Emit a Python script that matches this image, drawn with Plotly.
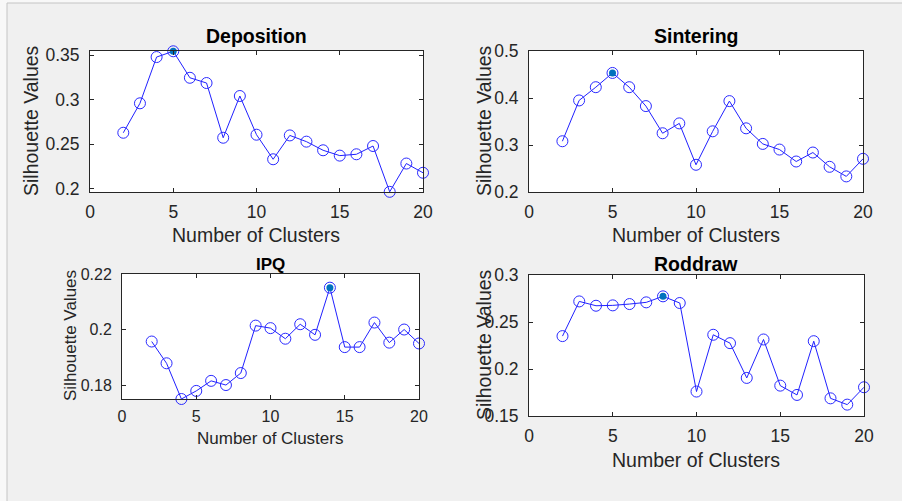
import plotly.graph_objects as go

clusters = list(range(2, 21))

deposition = [0.2629, 0.2960, 0.3480, 0.3545, 0.3247, 0.3188, 0.2573, 0.3042, 0.2607,
              0.2331, 0.2599, 0.2529, 0.2432, 0.2372, 0.2387, 0.2480, 0.1965, 0.2283, 0.2179]
sintering = [0.3080, 0.3948, 0.4230, 0.4533, 0.4230, 0.3828, 0.3250, 0.3460, 0.2579,
             0.3291, 0.3934, 0.3355, 0.3023, 0.2903, 0.2649, 0.2840, 0.2536, 0.2332, 0.2706]
ipq = [0.1958, 0.1880, 0.1752, 0.1781, 0.1817, 0.1802, 0.1845, 0.2015, 0.2006,
       0.1968, 0.2020, 0.1982, 0.2151, 0.1938, 0.1938, 0.2026, 0.1954, 0.2001, 0.1951]
roddraw = [0.2350, 0.2719, 0.2673, 0.2677, 0.2691, 0.2709, 0.2773, 0.2702, 0.1760,
           0.2364, 0.2275, 0.1905, 0.2314, 0.1823, 0.1724, 0.2296, 0.1688, 0.1621, 0.1806]

titles = ["Deposition", "Sintering", "IPQ", "Roddraw"]
x_ticks = [0, 5, 10, 15, 20]
x_ticklabels = ["0", "5", "10", "15", "20"]
y_ticks = [[0.2, 0.25, 0.3, 0.35], [0.2, 0.3, 0.4, 0.5], [0.18, 0.2, 0.22], [0.15, 0.2, 0.25, 0.3]]
y_ticklabels = [["0.2", "0.25", "0.3", "0.35"], ["0.2", "0.3", "0.4", "0.5"],
                ["0.18", "0.2", "0.22"], ["0.15", "0.2", "0.25", "0.3"]]
y_ranges = [[0.1963, 0.3548], [0.2, 0.5], [0.1752, 0.22], [0.15, 0.3]]
series = [deposition, sintering, ipq, roddraw]

W, H = 902, 501


def fx(p):
    return p / W


def fy(p):
    return 1 - p / H


# axes boxes in pixels: left, right, top, bottom
boxes = [(90, 423, 51, 192), (529, 863, 51, 192), (122, 419, 274, 399), (529, 864, 275, 416)]
fsize = [19.5, 19.5, 17, 19.5]
tsize = [17.5, 17.5, 16, 17.5]
xstand = [4, 4, 3, 4]
title_pos = [(256, 36), (696, 36), (270, 264), (696, 264)]
xlab_pos = [(256, 235), (696, 235), (270, 438), (696, 460)]
ylab_pos = [(31, 121), (484, 121), (70, 336), (484, 345)]

FONT = "Liberation Sans, Arial, Helvetica, sans-serif"
TXT = "#262626"

fig = go.Figure()
layout = dict(width=W, height=H, margin=dict(l=0, r=0, t=0, b=0, autoexpand=False),
              paper_bgcolor="#f0f0f0", plot_bgcolor="white", showlegend=False,
              font=dict(family=FONT, color=TXT))
annotations = []

for i, (ys, box) in enumerate(zip(series, boxes)):
    l, r, t, b = box
    n = "" if i == 0 else str(i + 1)
    xa, ya = "x" + n, "y" + n
    fig.add_trace(go.Scatter(x=clusters, y=ys, mode="lines+markers", xaxis=xa, yaxis=ya,
                             line=dict(color="#2020ff", width=1),
                             marker=dict(symbol="circle-open", size=11, color="#2a2aff",
                                         line=dict(width=1)),
                             cliponaxis=False))
    k = max(range(len(ys)), key=lambda j: ys[j])
    fig.add_trace(go.Scatter(x=[clusters[k]], y=[ys[k]], mode="markers", xaxis=xa, yaxis=ya,
                             marker=dict(symbol="circle", size=7, color="#0072BD",
                                         line=dict(width=0)),
                             cliponaxis=False))
    axis_common = dict(showgrid=False, zeroline=False, showline=True, linecolor="#262626",
                       linewidth=1, mirror="ticks", ticks="inside", ticklen=4, automargin=False,
                       tickcolor="#262626", tickfont=dict(size=tsize[i], color=TXT, family=FONT))
    layout["xaxis" + n] = dict(axis_common, domain=[fx(l), fx(r)], anchor=ya, range=[0, 20],
                               tickvals=x_ticks, ticktext=x_ticklabels,
                               ticklabelstandoff=xstand[i])
    layout["yaxis" + n] = dict(axis_common, domain=[fy(b), fy(t)], anchor=xa,
                               range=y_ranges[i], tickvals=y_ticks[i], ticktext=y_ticklabels[i],
                               ticklabelstandoff=6)
    tx, ty = title_pos[i]
    annotations.append(dict(text="<b>" + titles[i] + "</b>", x=fx(tx), y=fy(ty),
                            xref="paper", yref="paper", showarrow=False, xanchor="center",
                            yanchor="middle", font=dict(size=fsize[i], color="black", family=FONT)))
    lx, ly = xlab_pos[i]
    annotations.append(dict(text="Number of Clusters", x=fx(lx), y=fy(ly),
                            xref="paper", yref="paper", showarrow=False, xanchor="center",
                            yanchor="middle", font=dict(size=fsize[i], color=TXT, family=FONT)))
    yx, yy = ylab_pos[i]
    annotations.append(dict(text="Silhouette Values", x=fx(yx), y=fy(yy), textangle=-90,
                            xref="paper", yref="paper", showarrow=False, xanchor="center",
                            yanchor="middle", font=dict(size=fsize[i], color=TXT, family=FONT)))

layout["annotations"] = annotations
layout["shapes"] = [
    dict(type="rect", xref="paper", yref="paper", x0=0, x1=1, y0=fy(3), y1=1,
         fillcolor="#f8f8f8", line=dict(width=0), layer="below"),
    dict(type="rect", xref="paper", yref="paper", x0=0, x1=fx(7), y0=0, y1=1,
         fillcolor="#f8f8f8", line=dict(width=0), layer="below"),
    dict(type="line", xref="paper", yref="paper", x0=fx(7), x1=1, y0=fy(3), y1=fy(3),
         line=dict(color="#c4c4c4", width=1), layer="below"),
    dict(type="line", xref="paper", yref="paper", x0=fx(7), x1=fx(7), y0=0, y1=fy(3),
         line=dict(color="#c4c4c4", width=1), layer="below"),
]
fig.update_layout(**layout)
fig.write_html("out.html")
